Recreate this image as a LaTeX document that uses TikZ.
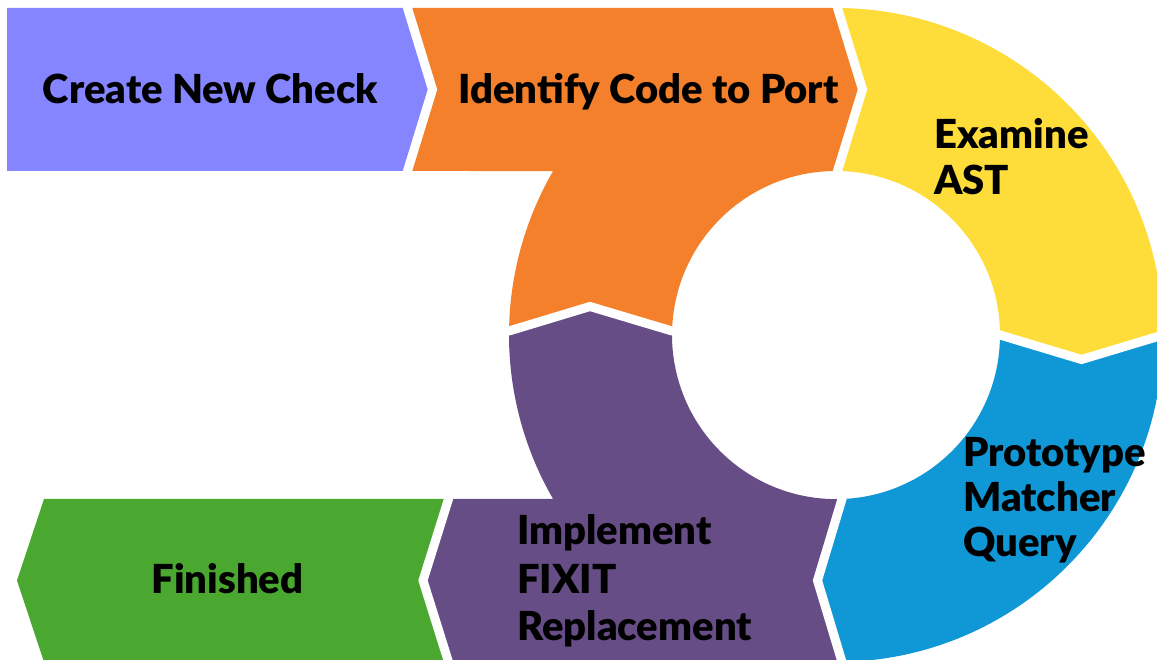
\documentclass[tikz,border=0pt]{standalone}
\usepackage{fontspec}
\setmainfont{Lato}[BoldFont={Lato Black}]
\usetikzlibrary{calc}
\definecolor{cperi}{RGB}{133,133,255}
\definecolor{corange}{RGB}{245,128,44}
\definecolor{cyellow}{RGB}{254,220,58}
\definecolor{cblue}{RGB}{15,151,214}
\definecolor{cpurple}{RGB}{102,77,134}
\definecolor{cgreen}{RGB}{74,168,48}
\begin{document}
\begin{tikzpicture}[x=1pt,y=1pt,
  gap/.style={draw=white,line width=9pt,line join=miter,miter limit=20},
  lbl/.style={font=\bfseries\fontsize{40}{46}\selectfont,inner sep=0pt,text=black},
  lblw/.style={lbl,anchor=base west},
  lblc/.style={lbl,anchor=base}]
\useasboundingbox (0,0) rectangle (1157,659);
\clip (0,0) rectangle (1157,659);
% ring centre, outer radius 327, inner radius 164
\coordinate (C) at (836,324);

% step 1: left arrow band
\fill[cperi] (7,651) -- (407.5,651) -- (432.5,569.5) -- (407.5,488) -- (7,488) -- cycle;
% step 2: top band and upper-left quarter of the ring
\fill[corange] (407.5,651) -- (837.5,651) -- (862.5,569.5) -- (837.5,488)
  arc[start angle=89.48,end angle=178.6,radius=164] -- (590,352.5)
  -- ($(C)+(179.3:327)$) arc[start angle=179.3,end angle=149.9,radius=327]
  -- (407.5,488) -- (432.5,569.5) -- cycle;
% step 3: upper-right quarter
\fill[cyellow] (837.5,651) arc[start angle=89.74,end angle=0,radius=327]
  -- (1081.5,299.5) -- (1000,324) arc[start angle=0,end angle=89.48,radius=164]
  -- (862.5,569.5) -- cycle;
% step 4: lower-right quarter
\fill[cblue] (1163,324) arc[start angle=0,end angle=-88.95,radius=327]
  -- (817.5,78.5) -- (842,160) arc[start angle=-87.9,end angle=0,radius=164]
  -- (1081.5,299.5) -- cycle;
% step 5: lower-left quarter and bottom band
\fill[cpurple] (842,-3) -- (817.5,78.5) -- (842,160)
  arc[start angle=-87.9,end angle=-181.4,radius=164] -- (590,352.5)
  -- ($(C)+(179.3:327)$) arc[start angle=179.3,end angle=210.1,radius=327]
  -- (448.5,160) -- (423,78.5) -- (448.5,-3) -- cycle;
% step 6: final arrow band
\fill[cgreen] (44,160) -- (448.5,160) -- (423,78.5) -- (448.5,-3) -- (44,-3) -- (17,78.5) -- cycle;

% white separators between the steps
\draw[gap] (407.5,660) -- (407.5,651) -- (432.5,569.5) -- (407.5,488) -- (407.5,480);
\draw[gap] (837.5,660) -- (837.5,651) -- (862.5,569.5) -- (837.5,488) -- (837.5,480);
\draw[gap] (992,324) -- (1000,324) -- (1081.5,299.5) -- (1163,324) -- (1170,324);
\draw[gap] (842,168) -- (842,160) -- (817.5,78.5) -- (842,-3) -- (842,-10);
\draw[gap] (500,328) -- (509,328) -- (590,352.5) -- (672,328) -- (680,328);
\draw[gap] (448.5,168) -- (448.5,160) -- (423,78.5) -- (448.5,-3) -- (448.5,-10);

% labels
\node[lblc] (t1) at (210.5,555) {Create New Check};
\node[lblc] (t2) at (648.5,555) {Identify Code to Port};
\node[lblw] (t3a) at (934,510) {Examine};
\node[lblw] (t3b) at (934,464) {AST};
\node[lblw] (t4a) at (963,192) {Prototype};
\node[lblw] (t4b) at (963,147) {Matcher};
\node[lblw] (t4c) at (963,102) {Query};
\node[lblw] (t5a) at (517,114) {Implement};
\node[lblw] (t5b) at (517,66) {FIXIT};
\node[lblw] (t5c) at (517,19) {Replacement};
\node[lblc] (t6) at (227.5,66) {Finished};
\end{tikzpicture}
\end{document}
